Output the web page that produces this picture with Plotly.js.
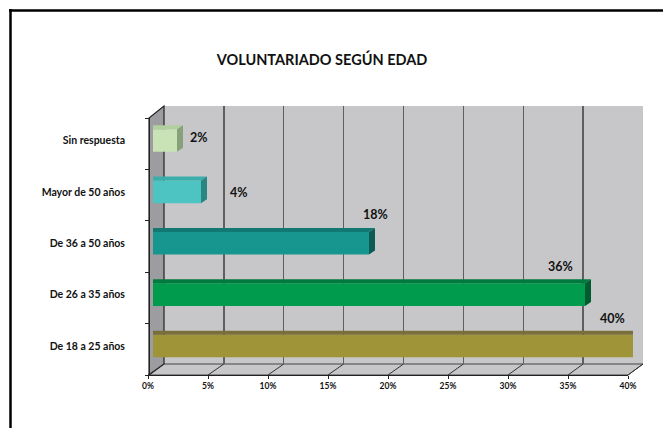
<!DOCTYPE html>
<html>
<head>
<meta charset="utf-8">
<script src="https://cdn.plot.ly/plotly-3.0.1.min.js"></script>
<style>html,body{margin:0;padding:0;background:#fff;}#chart{width:663px;height:428px;}</style>
</head>
<body>
<div id="chart"></div>
<script>
// ---- data ----
const categories = ['De 18 a 25 años', 'De 26 a 35 años', 'De 36 a 50 años', 'Mayor de 50 años', 'Sin respuesta'];
const values = [40, 36, 18, 4, 2];
const tickValues = [0, 5, 10, 15, 20, 25, 30, 35, 40];
const tickLabels = ['0%', '5%', '10%', '15%', '20%', '25%', '30%', '35%', '40%'];
const chartTitle = 'VOLUNTARIADO SEGÚN EDAD';

// ---- styles ----
const frontColors = ['#a09438', '#009b4c', '#17958f', '#4dc4c1', '#c9e2b6'];
const topColors   = ['#7a6e3a', '#007a3d', '#127871', '#3aaeab', '#b2cf9e'];
const sideColors  = ['#5d5530', '#005c2e', '#0e5b56', '#2a8682', '#87a27a'];
const labelShift = [[-21, 28], [-25, 28], [6, 29], [38, -1], [22, 3]];

const W = 663, H = 428;
const px = x => x / W;
const py = y => 1 - y / H;

const wallX = [164, 643], wallY = [106, 364];
const barX = [153, 633], barY = [114.8, 371.7];
const frontX = [148, 628], frontY = 375, leftX = 149, leftTop = 118;
const depth = [6, 4];
const barWidth = 0.44;
const halfH = barWidth * (barY[1] - barY[0]) / categories.length / 2;

const FONT = 'Lato, "Open Sans", sans-serif';

const traces = [
  { type: 'scatter', x: [0, 40], y: [0, 1], xaxis: 'x', yaxis: 'y', mode: 'markers',
    marker: { opacity: 0 }, hoverinfo: 'skip', showlegend: false },
  { type: 'bar', orientation: 'h', y: categories, x: values, xaxis: 'x2', yaxis: 'y2',
    width: barWidth, marker: { color: frontColors, line: { width: 0 } },
    hoverinfo: 'skip', showlegend: false },
  { type: 'scatter', x: [0, 40], y: [0, 5], xaxis: 'x3', yaxis: 'y3', mode: 'markers',
    marker: { opacity: 0 }, hoverinfo: 'skip', showlegend: false }
];

const shapes = [];
// back wall
shapes.push({ type: 'rect', xref: 'x domain', yref: 'y domain', x0: 0, x1: 1, y0: 0, y1: 1,
  fillcolor: '#c7c7c9', line: { width: 0 }, layer: 'below' });
// floor
shapes.push({ type: 'path', xref: 'paper', yref: 'paper', layer: 'below',
  path: `M${px(frontX[0])},${py(frontY)} L${px(frontX[1])},${py(frontY)} L${px(wallX[1])},${py(wallY[1])} L${px(wallX[0])},${py(wallY[1])} Z`,
  fillcolor: '#c7c7c9', line: { color: '#444', width: 1 } });
// left wall
shapes.push({ type: 'path', xref: 'paper', yref: 'paper', layer: 'below',
  path: `M${px(leftX)},${py(frontY)} L${px(wallX[0])},${py(wallY[1])} L${px(wallX[0])},${py(wallY[0])} L${px(leftX)},${py(leftTop)} Z`,
  fillcolor: '#9d9da1', line: { color: '#222', width: 1.2 } });
// floor diagonals
tickValues.forEach(t => {
  const f = t / 40;
  const xf = frontX[0] + f * (frontX[1] - frontX[0]);
  const xb = wallX[0] + f * (wallX[1] - wallX[0]);
  shapes.push({ type: 'line', xref: 'paper', yref: 'paper', layer: 'below',
    x0: px(xf), y0: py(frontY), x1: px(xb), y1: py(wallY[1]), line: { color: '#333', width: 1 } });
});
// bar 3D faces
values.forEach((v, i) => {
  shapes.push({ type: 'rect', xref: 'x2', yref: 'y2', ysizemode: 'pixel', yanchor: i,
    x0: 0, x1: v, y0: halfH, y1: halfH + depth[1], fillcolor: topColors[i], line: { width: 0 }, layer: 'above' });
  shapes.push({ type: 'path', xref: 'x2', yref: 'y2', xsizemode: 'pixel', ysizemode: 'pixel',
    xanchor: v, yanchor: i, layer: 'above',
    path: `M0,${halfH} L0,${halfH + depth[1]} L${depth[0]},${halfH + depth[1]} Z`,
    fillcolor: topColors[i], line: { width: 0 } });
  shapes.push({ type: 'path', xref: 'x2', yref: 'y2', xsizemode: 'pixel', ysizemode: 'pixel',
    xanchor: v, yanchor: i, layer: 'above',
    path: `M0,${-halfH} L0,${halfH} L${depth[0]},${halfH + depth[1]} L${depth[0]},${-halfH + depth[1]} Z`,
    fillcolor: sideColors[i], line: { width: 0 } });
});
// outer frame
shapes.push({ type: 'line', xref: 'paper', yref: 'paper', x0: px(10.5), x1: px(10.5), y0: py(9), y1: py(440),
  line: { color: '#000', width: 2.5 }, layer: 'above' });
shapes.push({ type: 'line', xref: 'paper', yref: 'paper', x0: px(9), x1: px(680), y0: py(10.5), y1: py(10.5),
  line: { color: '#000', width: 2.5 }, layer: 'above' });

const annotations = values.map((v, i) => ({
  xref: 'x2', yref: 'y2', x: v, y: i, text: '<b>' + v + '%</b>', showarrow: false,
  xshift: labelShift[i][0], yshift: labelShift[i][1], font: { family: FONT, size: 12.5, color: '#111' }
}));

const layout = {
  width: W, height: H,
  margin: { l: 0, r: 0, t: 0, b: 0 },
  paper_bgcolor: '#ffffff', plot_bgcolor: 'rgba(0,0,0,0)',
  showlegend: false,
  title: { text: '<b>' + chartTitle + '</b>', x: px(322), xanchor: 'center', y: py(60), yanchor: 'middle',
    font: { family: FONT, size: 14.5, color: '#111' } },
  xaxis: { domain: [px(wallX[0]), px(wallX[1])], range: [0, 40], tickvals: tickValues, showticklabels: false,
    showgrid: true, gridcolor: '#5f5f5f', gridwidth: 1.3, zeroline: false, showline: false, ticks: '', fixedrange: true },
  yaxis: { domain: [py(wallY[1]), py(wallY[0])], range: [0, 1], visible: false, fixedrange: true },
  xaxis2: { domain: [px(barX[0]), px(barX[1])], range: [0, 40], visible: false, anchor: 'y2', fixedrange: true },
  yaxis2: { domain: [py(barY[1]), py(barY[0])], type: 'category', categoryorder: 'array', categoryarray: categories,
    range: [-0.5, categories.length - 0.5], anchor: 'x2', showgrid: false, zeroline: false, showline: false, ticks: '',
    ticklabelstandoff: 27, tickfont: { family: FONT, size: 10.5, color: '#111', weight: 'bold' }, fixedrange: true },
  xaxis3: { domain: [px(frontX[0]), px(frontX[1])], range: [0, 40], anchor: 'free', position: py(frontY),
    tickvals: tickValues, ticktext: tickLabels, showline: true, linecolor: '#222', linewidth: 1,
    ticks: 'outside', ticklen: 3, tickcolor: '#222', showgrid: false, zeroline: false,
    tickfont: { family: FONT, size: 8.5, color: '#111', weight: 'bold' }, fixedrange: true },
  yaxis3: { domain: [py(frontY), py(leftTop)], range: [0, 5], anchor: 'free', position: px(leftX),
    tickvals: [0, 1, 2, 3, 4, 5], showticklabels: false, showline: true, linecolor: '#222', linewidth: 1.2,
    ticks: 'outside', ticklen: 4, tickcolor: '#222', showgrid: false, zeroline: false, fixedrange: true },
  shapes: shapes,
  annotations: annotations
};

Plotly.newPlot('chart', traces, layout, { displayModeBar: false, staticPlot: true });
</script>
</body>
</html>
